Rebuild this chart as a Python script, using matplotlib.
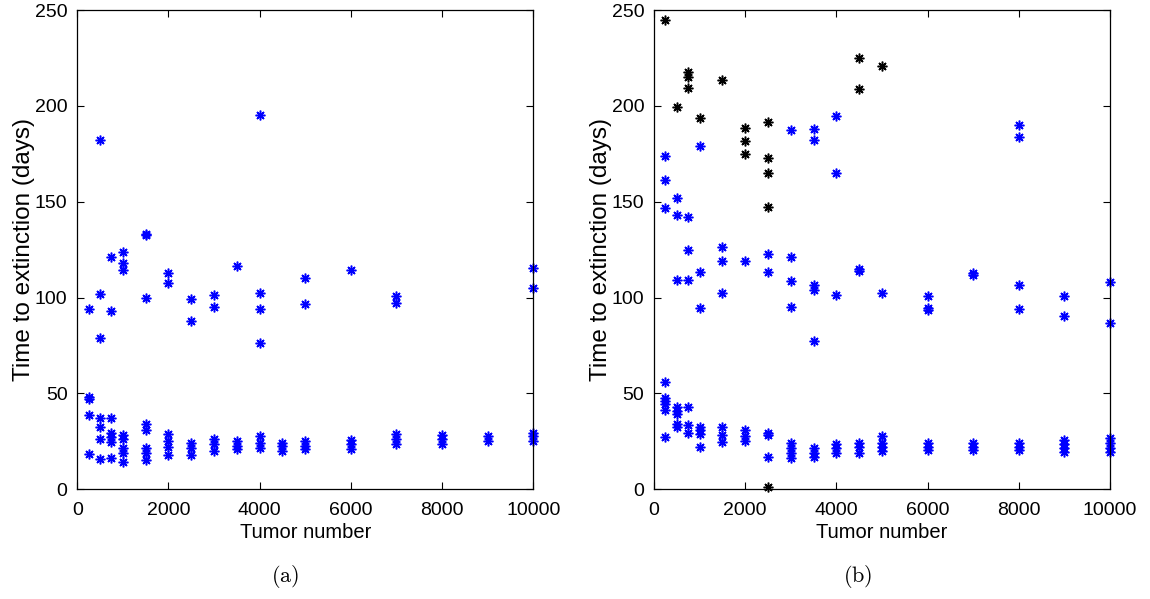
import matplotlib
matplotlib.use('Agg')
import matplotlib.pyplot as plt

plt.rcParams['font.family'] = ['Liberation Sans', 'DejaVu Sans']
plt.rcParams['mathtext.fontset'] = 'cm'

# tumor numbers used in the runs
sizes = [250, 500, 750, 1000, 1500, 2000, 2500, 3000, 3500, 4000,
         4500, 5000, 6000, 7000, 8000, 9000, 10000]

# (a) extinction times, one list per tumor number
times_a = [
    [93.9, 48.3, 47, 38.8, 18.4],
    [182.3, 101.9, 78.8, 37.4, 32.4, 26.1, 15.8],
    [121, 93, 37.4, 29.2, 27.5, 24.5, 16.2],
    [123.7, 118, 114.5, 28.3, 26.1, 21.4, 18.8, 14.4],
    [132.7, 133.3, 100, 34.1, 31, 21.4, 18.8, 15.4],
    [112.7, 107.8, 28.9, 25, 22, 18],
    [99.5, 88, 24, 21.4, 18],
    [101.4, 95.3, 26.1, 23.5, 20],
    [116.7, 25, 22.6, 21],
    [195.4, 102.6, 94.3, 76.2, 28, 24, 21.4],
    [24, 22.6, 20],
    [110.4, 96.7, 25, 22.6, 21],
    [114.5, 25.5, 23.5, 21],
    [100.9, 97, 28.9, 26, 23.5],
    [28.4, 26, 23.5],
    [27.6, 25],
    [115.3, 105.2, 29.3, 27.6, 25],
]

# (b) blue runs
times_b = [
    [173.8, 161.4, 147, 56.2, 47.5, 46, 44.4, 41.4, 27.5],
    [152, 143.2, 109.2, 43.1, 41, 39.4, 34.1, 32.3],
    [142.1, 125.1, 109.2, 42.8, 33.6, 29.5],
    [179, 113.3, 94.8, 32.7, 30.8, 29, 22.2],
    [126.5, 119, 102.6, 32.7, 28.4, 24.5],
    [119.3, 31, 27.6, 25],
    [122.8, 113.6, 29.5, 28.5, 17],
    [187.5, 121.4, 108.9, 95, 24.3, 21.4, 18.8, 16.2],
    [188, 182.3, 106.6, 104, 77.6, 21.4, 19.2, 17],
    [194.8, 164.9, 101.6, 23.5, 21.4, 18.8],
    [114.8, 114, 24.3, 22.3, 19.2],
    [102.5, 27.6, 24, 22, 20],
    [101, 94.5, 93.3, 24.3, 22.3, 20.5],
    [112.7, 112, 24, 22.3, 20.5],
    [190.1, 184, 106.8, 94.3, 24.3, 22.3, 20.5],
    [101, 90.4, 25.6, 23.5, 21.4, 19.7],
    [108.3, 87, 26.6, 24, 21.4, 19.7],
]

# (b) black runs
black_x = [250, 500, 750, 750, 750, 1000, 1500, 2000, 2000, 2000,
           2500, 2500, 2500, 2500, 2500, 4500, 4500, 5000]
black_y = [245, 199.2, 217.6, 215.3, 209.6, 193.6, 213.6, 188.4, 181.8, 175,
           191.5, 173.1, 165.1, 147.5, 1, 225, 208.9, 220.8]


def flatten(xs, groups):
    px, py = [], []
    for x, g in zip(xs, groups):
        for v in g:
            px.append(x)
            py.append(v)
    return px, py


fig = plt.figure(figsize=(11.5, 5.99), dpi=100)
ax1 = fig.add_axes([0.0672, 0.1831, 0.3965, 0.800])
ax2 = fig.add_axes([0.5687, 0.1831, 0.3965, 0.800])

mk = dict(marker=(8, 2, 0), linestyle='none', markersize=7,
          markeredgewidth=1.1, clip_on=False)

xa, ya = flatten(sizes, times_a)
ax1.plot(xa, ya, color='#0000ff', markeredgecolor='#0000ff', **mk)

ax2.plot(black_x, black_y, color='k', markeredgecolor='k', **mk)
xb, yb = flatten(sizes, times_b)
ax2.plot(xb, yb, color='#0000ff', markeredgecolor='#0000ff', **mk)

for ax in (ax1, ax2):
    ax.set_xlim(0, 10000)
    ax.set_ylim(0, 250)
    ax.set_xticks([0, 2000, 4000, 6000, 8000, 10000])
    ax.set_yticks([0, 50, 100, 150, 200, 250])
    ax.tick_params(direction='in', top=True, right=True, length=5,
                   labelsize=14, width=0.8)
    ax.tick_params(axis='x', pad=9)
    ax.tick_params(axis='y', pad=7)
    ax.set_xlabel('Tumor number', fontsize=14.5, labelpad=3)
    ax.set_ylabel('Time to extinction (days)', fontsize=17.5, labelpad=0)
    for s in ax.spines.values():
        s.set_linewidth(0.9)

fig.text(285 / 1150, 1 - 577 / 599, r'$\mathrm{(a)}$', fontsize=16,
         ha='center', va='center')
fig.text(858 / 1150, 1 - 577 / 599, r'$\mathrm{(b)}$', fontsize=16,
         ha='center', va='center')

fig.savefig('out.png', dpi=100)
